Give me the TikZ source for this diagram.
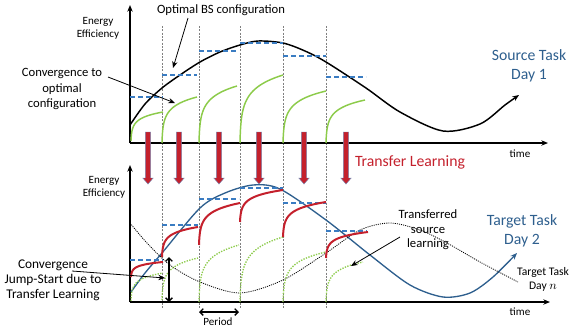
\documentclass[tikz,border=0pt]{standalone}
\usepackage{fontspec}
\setmainfont{Carlito}
\usetikzlibrary{arrows.meta}
\definecolor{optblue}{HTML}{3A7CC2}
\definecolor{taskblue}{HTML}{2E5F8E}
\definecolor{tlred}{HTML}{C4202C}
\definecolor{convgreen}{HTML}{8CCB4A}
\definecolor{tledge}{HTML}{7A86B0}
\tikzset{
  axis/.style={line width=1.1pt, -{Stealth[length=5pt, width=4pt]}},
  slot/.style={gray, line width=0.5pt, dash pattern=on 1.5pt off 1pt},
  opt/.style={optblue, line width=0.9pt, dash pattern=on 4pt off 2pt},
  conv/.style={convgreen, line width=1.1pt},
  tconv/.style={tlred, line width=1.5pt},
  sconv/.style={convgreen, line width=1pt, dash pattern=on 1pt off 1pt},
  ptr/.style={-{Stealth[length=5pt, width=4pt]}, line width=0.6pt},
  span/.style={{Straight Barb[length=2.5pt]}-{Straight Barb[length=2.5pt]}, line width=1pt},
  tlarrow/.style={draw=tledge, fill=tlred, line width=0.35pt},
  lbl/.style={font=\fontsize{9.5}{11.5}\selectfont, align=center},
  small/.style={font=\fontsize{8.3}{9.8}\selectfont, align=center},
  task/.style={font=\fontsize{11.8}{14.2}\selectfont, align=center, text=taskblue},
}

\begin{document}
\begin{tikzpicture}[x=0.75pt, y=-0.75pt]
  \useasboundingbox (0,0) rectangle (569,330);

  % time slots
  \foreach \x in {162,199,240,283,326}
    \draw[slot] (\x,26) -- (\x,308);

  % axes
  \draw[axis] (130,143) -- (130,5);
  \draw[axis] (130,143) -- (548,143);
  \draw[axis] (130,302) -- (130,165);
  \draw[axis] (130,302) -- (550,302);

  % source task (day 1)
  \draw[line width=1.1pt, -{Stealth[length=5pt, width=4pt]}] plot[smooth] coordinates {
    (130,125) (145,104) (162,88) (180,75) (200,62) (220,52) (240,45) (258,41)
    (283,43) (305,51) (326,62) (366,88) (400,112) (443,131) (480,124) (505,105) (519,95)};
  \foreach \xa/\xb/\y in {130/163/97, 162/197/75, 199/237/51, 240/283/43, 283/326/56, 326/366/77}
    \draw[opt] (\xa,\y) -- (\xb,\y);
  \foreach \xa/\ya/\xb/\yb in {131/141/163/112, 162/143/197/97, 199/143/237/86,
      240/143/283/75, 283/143/326/91, 326/143/365/100}
    \draw[conv] plot[domain=0:1, samples=40, smooth]
      ({\xa+(\xb-\xa)*\x*\x}, {\ya-(\ya-\yb)*ln(1+150*\x*\x)/ln(151)});

  % target task (day 2)
  \draw[taskblue, line width=1pt, -{Stealth[length=5pt, width=4pt]}] plot[smooth] coordinates {
    (131,292) (145,273) (162,253) (200,208) (225,193) (253,185) (280,189)
    (326,220) (370,255) (410,285) (443,297) (470,293) (493,277) (517,253)};
  \draw[line width=0.6pt, dash pattern=on 0.8pt off 0.8pt] plot[smooth] coordinates {
    (130,223) (147,243) (170,265) (200,282) (240,293) (283,280) (326,253)
    (360,230) (390,223) (420,230) (447,243) (480,262) (518,282)};
  \foreach \xa/\xb/\y in {130/163/260, 162/198/225, 199/239/199, 240/283/188, 283/326/203, 326/367/231}
    \draw[opt] (\xa,\y) -- (\xb,\y);
  \foreach \xa/\ya/\xb/\yb in {131/301/163/273, 162/300/198/258, 199/302/239/245,
      240/302/283/237, 283/302/326/252, 326/302/363/262}
    \draw[sconv] plot[domain=0:1, samples=40, smooth]
      ({\xa+(\xb-\xa)*\x*\x}, {\ya-(\ya-\yb)*ln(1+150*\x*\x)/ln(151)});
  \foreach \xa/\ya/\xb/\yb in {131/277/163/262, 162/257/198/227, 199/245/240/203,
      240/222/283/190, 283/237/326/202, 326/258/368/232}
    \draw[tconv] plot[domain=0:1, samples=40, smooth]
      ({\xa+(\xb-\xa)*\x*\x}, {\ya-(\ya-\yb)*ln(1+150*\x*\x)/ln(151)});

  % transfer
  \foreach \x in {148,179,219,259,304,346}
    \draw[tlarrow] (\x-2.6,132) -- (\x+2.6,132) -- (\x+2.6,178) -- (\x+5.2,178)
      -- (\x,184) -- (\x-5.2,178) -- (\x-2.6,178) -- cycle;
  \node[font=\fontsize{11.8}{14}\selectfont, text=tlred] (tllbl) at (410,162) {Transfer Learning};

  % labels
  \node[small] (eetop) at (98,28) {Energy\\Efficiency};
  \node[small] (eebot) at (104,187) {Energy\\Efficiency};
  \node[small] (timetop) at (520,154) {time};
  \node[small] (timebot) at (520,312) {time};
  \node[task] (srclbl) at (529,66) {Source Task\\Day 1};
  \node[task] (tgtlbl) at (522,231) {Target Task\\Day 2};
  \node[font=\fontsize{8.7}{10.5}\selectfont, align=center] (daynlbl) at (543,279) {Target Task\\Day $n$};
  \node[lbl] (optlbl) at (221,10) {Optimal BS configuration};
  \node[lbl] (convlbl) at (62,89) {Convergence to\\optimal\\configuration};
  \node[font=\fontsize{10}{11.3}\selectfont, align=center] (jumplbl) at (53,280) {Convergence\\Jump-Start due to\\Transfer Learning};
  \node[font=\fontsize{9.5}{11}\selectfont, align=center] (xferlbl) at (428,230) {Transferred\\source\\learning};
  \node[small] (periodlbl) at (218,322) {Period};

  % pointers
  \coordinate (optfrom) at (188,18);   \coordinate (optto) at (173,68);
  \coordinate (convfrom) at (108,77);  \coordinate (convto) at (175,103);
  \coordinate (xferfrom) at (400,237); \coordinate (xferto) at (351,266);
  \coordinate (jumpfrom) at (72,271);  \coordinate (jumpto) at (165,278);
  \draw[ptr] (optfrom) -- (optto);
  \draw[ptr] (convfrom) -- (convto);
  \draw[ptr] (xferfrom) -- (xferto);
  \draw[ptr] (jumpfrom) -- (jumpto);

  % jump-start and period spans
  \coordinate (jumptop) at (169,257);  \coordinate (jumpbot) at (169,302);
  \coordinate (perleft) at (199,312);  \coordinate (perright) at (239,312);
  \draw[span] (jumptop) -- (jumpbot);
  \draw[span] (perleft) -- (perright);
\end{tikzpicture}
\end{document}
